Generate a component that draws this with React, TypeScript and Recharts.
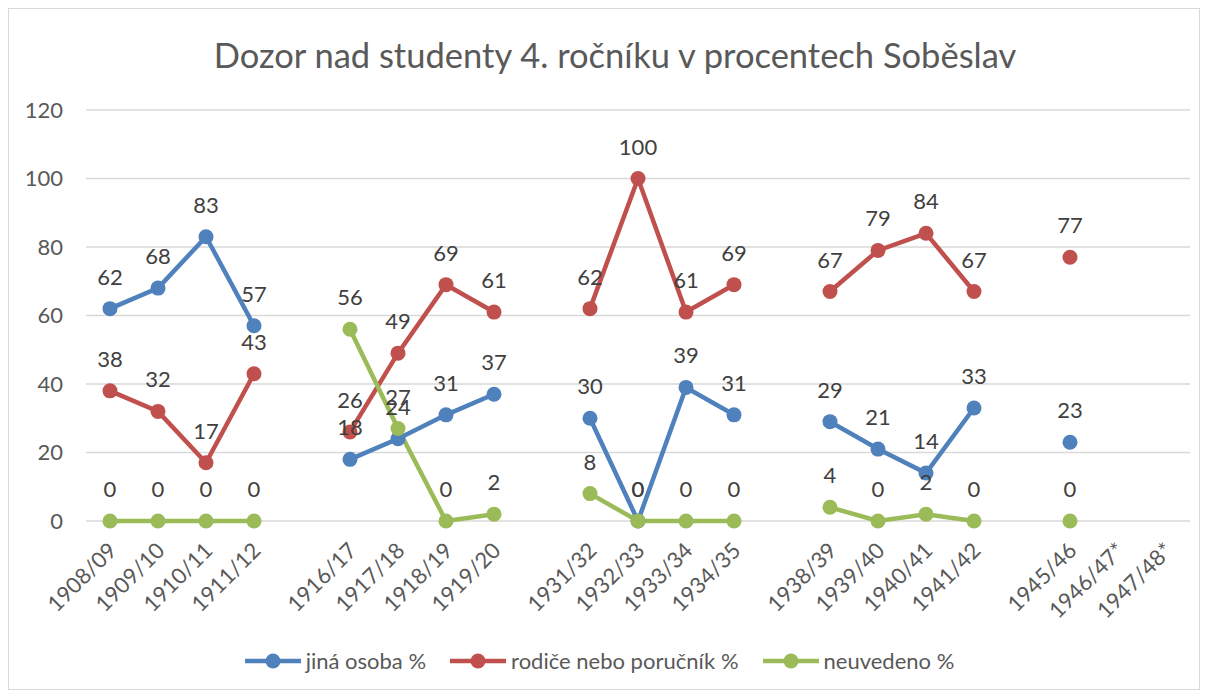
import React from 'react';
import { LineChart, Line, XAxis, YAxis, CartesianGrid, LabelList, Legend } from 'recharts';

const categories = ['1908/09', '1909/10', '1910/11', '1911/12', ' ', '1916/17', '1917/18', '1918/19', '1919/20', '  ', '1931/32', '1932/33', '1933/34', '1934/35', '   ', '1938/39', '1939/40', '1940/41', '1941/42', '    ', '1945/46', '1946/47*', '1947/48*'];
const jinaOsoba = [62, 68, 83, 57, null, 18, 24, 31, 37, null, 30, 0, 39, 31, null, 29, 21, 14, 33, null, 23, null, null];
const rodice = [38, 32, 17, 43, null, 26, 49, 69, 61, null, 62, 100, 61, 69, null, 67, 79, 84, 67, null, 77, null, null];
const neuvedeno = [0, 0, 0, 0, null, 56, 27, 0, 2, null, 8, 0, 0, 0, null, 4, 0, 2, 0, null, 0, null, null];
const yTicks = [0, 20, 40, 60, 80, 100, 120];

const series = [
  { key: 'jina', name: 'jiná osoba %', color: '#4F81BD' },
  { key: 'rodice', name: 'rodiče nebo poručník %', color: '#C0504D' },
  { key: 'neuvedeno', name: 'neuvedeno %', color: '#9BBB59' },
];

const data = categories.map((c, i) => ({
  year: c,
  jina: jinaOsoba[i],
  rodice: rodice[i],
  neuvedeno: neuvedeno[i],
}));

const FONT = 'Lato, "Open Sans", sans-serif';
const TEXT = '#595959';

const XTick = (props: any) => {
  const { x, y, payload } = props;
  return (
    <g transform={`translate(${x + 8},${y + 23})`}>
      <text x={0} y={0} textAnchor="end" transform="rotate(-45)" fill={TEXT} fontSize={22} fontFamily={FONT}>
        {payload.value.trim()}
      </text>
    </g>
  );
};

const LegendContent = () => (
  <div style={{ display: 'flex', justifyContent: 'center', alignItems: 'center', fontFamily: FONT, fontSize: 22, color: TEXT, paddingLeft: 24 }}>
    {series.map((s) => (
      <div key={s.key} style={{ display: 'flex', alignItems: 'center', marginRight: 24 }}>
        <svg width={56} height={20} style={{ marginRight: 5 }}>
          <line x1={0} y1={10} x2={56} y2={10} stroke={s.color} strokeWidth={4.5} />
          <circle cx={28} cy={10} r={7.5} fill={s.color} />
        </svg>
        <span>{s.name}</span>
      </div>
    ))}
  </div>
);

export default function App() {
  return (
    <div style={{ position: 'relative', width: 1190, height: 680, border: '1px solid #D9D9D9', background: '#fff' }}>
      <div style={{ position: 'absolute', left: 0, width: 1212, top: 25, textAlign: 'center', fontFamily: FONT, fontSize: 34.5, color: TEXT }}>
        Dozor nad studenty 4. ročníku v procentech Soběslav
      </div>
      <LineChart width={1190} height={680} data={data} margin={{ top: 101, right: 9, bottom: 15, left: 0 }}>
        <CartesianGrid vertical={false} stroke="#D9D9D9" strokeWidth={1.3} />
        <XAxis dataKey="year" scale="band" interval={0} axisLine={false} tickLine={false} tick={<XTick />} height={126} />
        <YAxis domain={[0, 120]} ticks={yTicks} axisLine={false} tickLine={false} width={77} tickMargin={17}
          tick={{ fill: TEXT, fontSize: 22, fontFamily: FONT }} />
        <Legend verticalAlign="bottom" content={<LegendContent />} />
        {series.map((s) => (
          <Line key={s.key} dataKey={s.key} name={s.name} stroke={s.color} strokeWidth={4.5}
            dot={{ r: 7.5, fill: s.color, stroke: s.color, strokeWidth: 0 }} activeDot={false}
            isAnimationActive={false} connectNulls={false}>
            <LabelList dataKey={s.key} position="top" offset={24} fill="#404040" fontSize={22} fontFamily={FONT} />
          </Line>
        ))}
      </LineChart>
    </div>
  );
}
